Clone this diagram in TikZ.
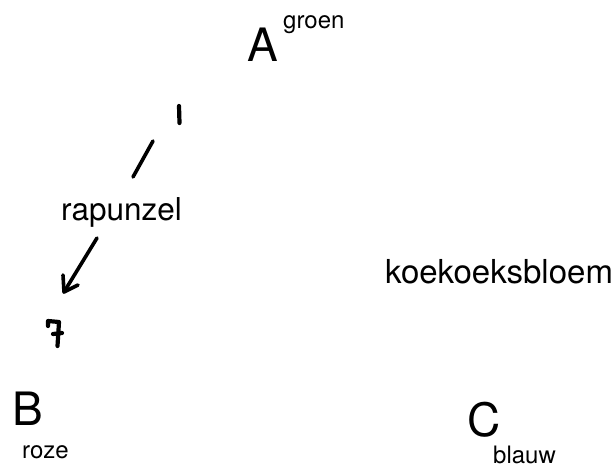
\documentclass[tikz,border=0pt]{standalone}
\usepackage{fontspec}
\setmainfont{TeX Gyre Heros}
\begin{document}
\begin{tikzpicture}[x=1pt,y=-1pt,
  txt/.style={inner sep=0pt,anchor=base west},
  big/.style={txt,font=\fontsize{46}{50}\selectfont},
  word/.style={txt,font=\fontsize{31.5}{36}\selectfont},
  tag/.style={txt,font=\fontsize{24}{28}\selectfont},
  pen/.style={line width=3.6pt,line cap=round,line join=round}]
\useasboundingbox (0,0) rectangle (615,468);
% corner letters with their colour names
\node[big] (A) at (247,62) {A};
\node[tag] (Alab) at (283,29) {groen};
\node[big] (B) at (12,425) {B};
\node[tag] (Blab) at (22,458) {roze};
\node[big] (C) at (467,436) {C};
\node[tag] (Clab) at (493,463) {blauw};
% edge labels
\node[word] (rap) at (61,220) {rapunzel};
\node[word,font=\fontsize{33}{38}\selectfont] (koe) at (385,283) {koekoeksbloem};
% hand-drawn marks
\coordinate (oneTop) at (179,106);
\coordinate (oneBot) at (179.5,123);
\draw[pen,line width=4.2pt] (oneTop) -- (oneBot);
\coordinate (slashTop) at (153,141);
\coordinate (slashBot) at (133,177);
\draw[pen] (slashTop) -- (slashBot);
\coordinate (arrTail) at (97,238);
\coordinate (arrTip) at (64,292);
\draw[pen] (arrTail) -- (arrTip);
\draw[pen] (63,275) -- (arrTip) -- (78,285);
% the handwritten seven
\coordinate (sevA) at (48,321);
\coordinate (sevB) at (59,322);
\coordinate (sevC) at (57.5,346);
\draw[pen,line width=4.2pt] (48,326) -- (sevA) -- (sevB) -- (sevC);
\draw[pen,line width=4.2pt] (53,334) -- (62,333);
\end{tikzpicture}
\end{document}
